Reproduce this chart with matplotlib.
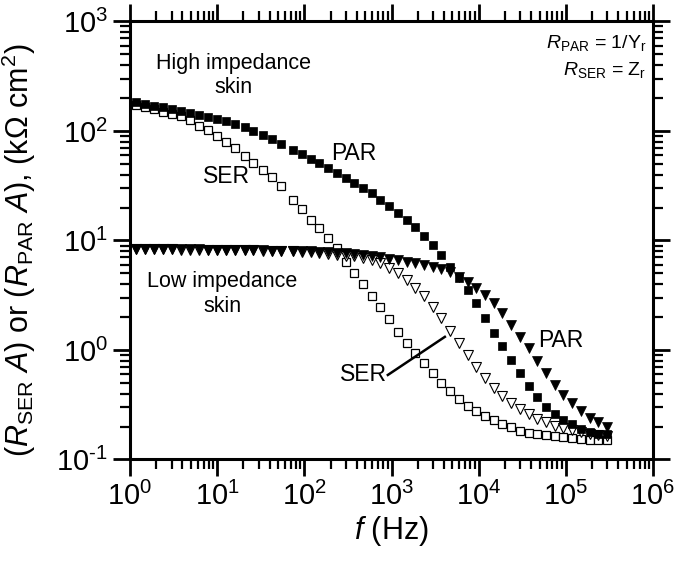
import math
import matplotlib
matplotlib.use('Agg')
import matplotlib.pyplot as plt
from matplotlib.ticker import LogLocator, FuncFormatter, NullFormatter

# measurement frequencies (Hz); the sweep jumps over the mains band near 60 Hz
freq = [1.16, 1.48, 1.87, 2.38, 3.03, 3.85, 4.89, 6.21, 7.89, 10.0,
        12.7, 16.2, 20.6, 26.1, 33.2, 42.2, 53.6,
        74.6, 93.9, 118, 149, 187, 236, 297, 374, 471, 593,
        746, 939, 1180, 1490, 1870, 2360, 2970, 3740, 4710, 5930,
        7460, 9390, 11800, 14900, 18700, 23600, 29700, 37400, 47100, 59300,
        74600, 93900, 118000, 149000, 187000, 236000, 297000]

# high impedance skin, kOhm cm2
high_par = [183.6, 175.4, 169.5, 164.0, 157.8, 151.0, 145.4, 139.7, 134.3, 129.0,
            122.7, 115.2, 107.7, 100.7, 92.1, 84.1, 76.6,
            67.0, 61.3, 55.8, 50.7, 46.0, 41.6, 37.6, 33.8, 30.2, 26.9,
            23.6, 20.6, 17.9, 15.4, 13.2, 11.1, 9.1, 7.37, 5.77, 4.52,
            3.53, 2.67, 1.95, 1.44, 1.09, 0.81, 0.61, 0.47, 0.37, 0.30,
            0.26, 0.23, 0.21, 0.19, 0.18, 0.17, 0.17]
high_ser = [171, 165, 160, 150, 142, 136, 126, 112, 102, 90.2,
            79.8, 69.8, 59.7, 51.5, 44.2, 37.8, 31.6,
            23.4, 19.3, 15.4, 12.9, 10.5, 8.48, 6.40, 5.08, 4.01, 3.11,
            2.45, 1.91, 1.47, 1.17, 0.93, 0.76, 0.61, 0.50, 0.42, 0.36,
            0.31, 0.28, 0.25, 0.23, 0.21, 0.197, 0.183, 0.176, 0.171, 0.167,
            0.164, 0.160, 0.157, 0.154, 0.152, 0.151, 0.150]

# low impedance skin, kOhm cm2
low_par = [8.35, 8.34, 8.33, 8.32, 8.31, 8.30, 8.29, 8.28, 8.26, 8.24,
           8.22, 8.20, 8.18, 8.16, 8.13, 8.10, 8.08,
           8.05, 8.00, 7.95, 7.90, 7.83, 7.76, 7.67, 7.56, 7.43, 7.26,
           7.06, 6.83, 6.57, 6.34, 6.17, 5.95, 5.77, 5.47, 5.14, 4.64,
           4.18, 3.68, 3.18, 2.66, 2.18, 1.69, 1.32, 1.05, 0.80, 0.61,
           0.48, 0.39, 0.33, 0.28, 0.24, 0.22, 0.20]
low_ser = [8.32, 8.31, 8.30, 8.29, 8.28, 8.27, 8.26, 8.25, 8.23, 8.21,
           8.19, 8.17, 8.15, 8.13, 8.10, 8.07, 8.04,
           8.00, 7.92, 7.84, 7.74, 7.60, 7.42, 7.29, 7.17, 6.95, 6.67,
           6.19, 5.55, 5.00, 4.40, 3.72, 3.08, 2.47, 1.94, 1.49, 1.15,
           0.895, 0.704, 0.555, 0.450, 0.378, 0.328, 0.291, 0.260, 0.236, 0.218,
           0.202, 0.193, 0.184, 0.177, 0.171, 0.166, 0.164]

plt.rcParams['font.family'] = 'Liberation Sans'
plt.rcParams['mathtext.fontset'] = 'custom'
plt.rcParams['mathtext.rm'] = 'Liberation Sans'
plt.rcParams['mathtext.it'] = 'Liberation Sans:italic'
plt.rcParams['mathtext.bf'] = 'Liberation Sans:bold'

fig = plt.figure(figsize=(6.76, 5.64), dpi=100)
ax = fig.add_axes([0.1923, 0.1853, 0.7737, 0.7766])

ax.plot(freq, high_ser, 's', ms=6.3, mfc='white', mec='black', mew=0.9, ls='none')
ax.plot(freq, low_ser, 'v', ms=6.6, mfc='white', mec='black', mew=0.8, ls='none')
ax.plot(freq, high_par, 's', ms=6.3, mfc='black', mec='black', mew=0.5, ls='none')
ax.plot(freq, low_par, 'v', ms=6.6, mfc='black', mec='black', mew=0.5, ls='none')

ax.set_xscale('log')
ax.set_yscale('log')
ax.set_xlim(1, 1e6)
ax.set_ylim(0.1, 1000)

for sp in ax.spines.values():
    sp.set_linewidth(2.2)


def decade_label(v, pos):
    e = round(math.log10(v))
    if e < 0:
        return r'$\mathrm{10^{\text{-}%d}}$' % -e
    return r'$\mathrm{10^{%d}}$' % e


ax.xaxis.set_major_locator(LogLocator(base=10, numticks=20))
ax.yaxis.set_major_locator(LogLocator(base=10, numticks=20))
ax.xaxis.set_minor_locator(LogLocator(base=10, subs=range(2, 10), numticks=20))
ax.yaxis.set_minor_locator(LogLocator(base=10, subs=range(2, 10), numticks=20))
ax.xaxis.set_major_formatter(FuncFormatter(decade_label))
ax.yaxis.set_major_formatter(FuncFormatter(decade_label))
ax.xaxis.set_minor_formatter(NullFormatter())
ax.yaxis.set_minor_formatter(NullFormatter())
ax.tick_params(which='both', direction='out', top=True, right=True, labelsize=21)
ax.tick_params(which='major', length=12.5, width=2.0, pad=3.5)
ax.tick_params(which='minor', length=7, width=1.6)

ax.set_xlabel(r'$\mathit{f}$ (Hz)', fontsize=22, labelpad=2)
ax.set_ylabel(r'($R_{\mathrm{SER}}$ $A$) or ($R_{\mathrm{PAR}}$ $A$), (k$\Omega$ cm$^{2}$)',
              fontsize=22)
ax.yaxis.set_label_coords(-0.176, 0.478)

ax.text(0.197, 0.876, 'High impedance\nskin', transform=ax.transAxes, fontsize=15.5,
        ha='center', va='center', linespacing=1.2)
ax.text(0.177, 0.378, 'Low impedance\nskin', transform=ax.transAxes, fontsize=15.5,
        ha='center', va='center', linespacing=1.2)
ax.text(0.428, 0.699, 'PAR', transform=ax.transAxes, fontsize=16.5, ha='center', va='center')
ax.text(0.184, 0.645, 'SER', transform=ax.transAxes, fontsize=16.5, ha='center', va='center')
ax.text(0.824, 0.271, 'PAR', transform=ax.transAxes, fontsize=16.5, ha='center', va='center')
ax.text(0.447, 0.193, 'SER', transform=ax.transAxes, fontsize=16.5, ha='center', va='center')
ax.plot([0.493, 0.602], [0.193, 0.280], color='black', lw=1.8, transform=ax.transAxes)

ax.text(0.988, 0.951, r'$R_{\mathrm{PAR}}$ = 1/Y$_{\mathrm{r}}$', transform=ax.transAxes,
        fontsize=14, ha='right', va='center')
ax.text(0.988, 0.889, r'$R_{\mathrm{SER}}$ = Z$_{\mathrm{r}}$', transform=ax.transAxes,
        fontsize=14, ha='right', va='center')

fig.savefig('out.png', dpi=100)
